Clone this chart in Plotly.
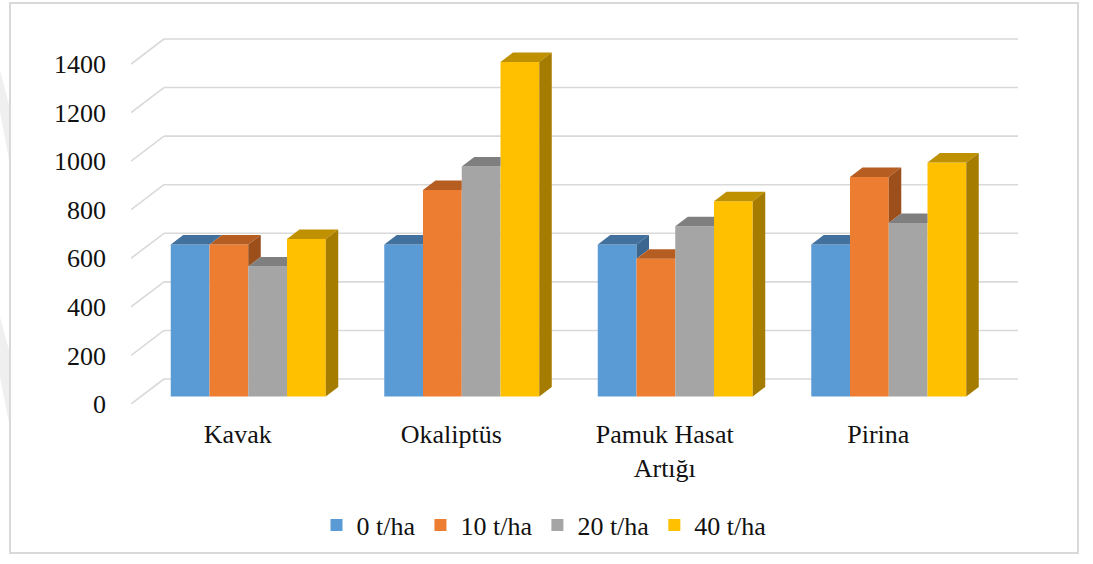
import plotly.graph_objects as go

# ---- data -------------------------------------------------------------
categories = ["Kavak", "Okaliptüs", "Pamuk Hasat<br>Artığı", "Pirina"]
series_names = ["0 t/ha", "10 t/ha", "20 t/ha", "40 t/ha"]
dose_0 = [625, 625, 625, 625]
dose_10 = [625, 850, 567, 903]
dose_20 = [535, 947, 701, 714]
dose_40 = [648, 1377, 804, 963]
y_ticks = [0, 200, 400, 600, 800, 1000, 1200, 1400]

series_values = [dose_0, dose_10, dose_20, dose_40]

# ---- style --------------------------------------------------------------
front_colors = ["#5B9BD5", "#ED7D31", "#A5A5A5", "#FFC000"]
top_colors = ["#41719C", "#B65D22", "#7F7F7F", "#BF9000"]
side_colors = ["#3A6690", "#9C4E1B", "#6E6E6E", "#A67C00"]
grid_color = "#D9D9D9"
font_family = "Liberation Serif"
text_color = "#111111"
base_font = dict(family=font_family, size=26, color=text_color)

W, H = 1093, 564
M_L, M_R, M_T, M_B = 131, 53, 20, 160
plot_w = W - M_L - M_R
plot_h = H - M_T - M_B

slot_px = 213.5            # pixels per category slot
unit_px = 340.0 / 1400.0   # pixels per value unit
x_max = plot_w / slot_px
y_max = plot_h / unit_px


def px_x(p):
    return p / slot_px


def px_y(p):
    return p / unit_px


def paper_x(p):
    return (p - M_L) / plot_w


def paper_y(p):
    return (M_T + plot_h - p) / plot_h


# oblique projection offsets (data units)
floor_dx, floor_dy = px_x(33), px_y(25)      # full floor depth
bar_dx, bar_dy = px_x(10.5), px_y(7.6)       # bar front face inset
depth_dx, depth_dy = px_x(12.5), px_y(9.5)   # bar depth
bar_w = px_x(38.75)
n_cat = len(categories)
n_ser = len(series_values)

fig = go.Figure()

# front faces of the bars
for s, (name, vals) in enumerate(zip(series_names, series_values)):
    centers = [c + 0.5 + bar_dx + (s - (n_ser - 1) / 2) * bar_w for c in range(n_cat)]
    fig.add_trace(go.Bar(
        x=centers, y=vals, base=[bar_dy] * n_cat, width=bar_w,
        name=name, marker=dict(color=front_colors[s], line=dict(width=0)),
        hoverinfo="skip",
    ))

# top and side faces, clipped where the next bar in the group hides them
for s, vals in enumerate(series_values):
    top_x, top_y, side_x, side_y = [], [], [], []
    for c in range(n_cat):
        h = vals[c]
        nxt = series_values[s + 1][c] if s < n_ser - 1 else 0
        xl = c + 0.5 + bar_dx + (s - n_ser / 2) * bar_w
        xr = xl + bar_w
        b = bar_dy
        T = b + h
        if nxt <= h:
            pts = [(xl, T), (xr, T), (xr + depth_dx, T + depth_dy), (xl + depth_dx, T + depth_dy)]
        else:
            ycut = min(b + nxt, T + depth_dy)
            pts = [(xl, T), (xr, T), (xr, ycut),
                   (xr + depth_dx * (ycut - T) / depth_dy, ycut),
                   (xr + depth_dx, T + depth_dy), (xl + depth_dx, T + depth_dy)]
        for px, py in pts + [pts[0]]:
            top_x.append(px)
            top_y.append(py)
        top_x.append(None)
        top_y.append(None)
        if nxt < h:
            lo = b + nxt
            pts = [(xr, lo), (xr, T), (xr + depth_dx, T + depth_dy), (xr + depth_dx, lo + depth_dy)]
            for px, py in pts + [pts[0]]:
                side_x.append(px)
                side_y.append(py)
            side_x.append(None)
            side_y.append(None)
    fig.add_trace(go.Scatter(x=top_x, y=top_y, mode="lines", fill="toself",
                             fillcolor=top_colors[s], line=dict(width=0),
                             showlegend=False, hoverinfo="skip"))
    if side_x:
        fig.add_trace(go.Scatter(x=side_x, y=side_y, mode="lines", fill="toself",
                                 fillcolor=side_colors[s], line=dict(width=0),
                                 showlegend=False, hoverinfo="skip"))

# back wall gridlines with their diagonal floor edges
shapes = []
for v in y_ticks:
    shapes.append(dict(type="line", xref="x", yref="y", layer="below",
                       x0=0, y0=v, x1=floor_dx, y1=v + floor_dy,
                       line=dict(color=grid_color, width=1.6)))
    shapes.append(dict(type="line", xref="x", yref="y", layer="below",
                       x0=floor_dx, y0=v + floor_dy, x1=n_cat + floor_dx, y1=v + floor_dy,
                       line=dict(color=grid_color, width=1.6)))

# chart border
shapes.append(dict(type="rect", xref="paper", yref="paper", layer="below",
                   x0=paper_x(10), x1=paper_x(1078), y0=paper_y(553), y1=paper_y(3),
                   line=dict(color="#D9D9D9", width=2), fillcolor="rgba(0,0,0,0)"))

# faint page marks left of the border
for poly in ([(0, 70), (9, 105), (9, 160), (0, 112)],
             [(0, 317), (9, 350), (9, 423), (0, 377)]):
    path = "M " + " L ".join(f"{paper_x(px):.5f},{paper_y(py):.5f}" for px, py in poly) + " Z"
    shapes.append(dict(type="path", xref="paper", yref="paper", layer="below",
                       path=path, fillcolor="#EFEFEF", line=dict(width=0)))

fig.update_layout(
    width=W, height=H,
    margin=dict(l=M_L, r=M_R, t=M_T, b=M_B),
    paper_bgcolor="white", plot_bgcolor="white",
    barmode="overlay",
    font=base_font,
    shapes=shapes,
    showlegend=True,
    legend=dict(orientation="h", x=paper_x(544), xanchor="center",
                y=paper_y(525), yanchor="middle",
                font=base_font, itemwidth=30, bgcolor="rgba(0,0,0,0)"),
    xaxis=dict(range=[0, x_max], tickmode="array",
               tickvals=[c + 0.5 for c in range(n_cat)], ticktext=categories,
               tickfont=base_font,
               showgrid=False, zeroline=False, showline=False, ticks="",
               ticklabelstandoff=12, fixedrange=True),
    yaxis=dict(range=[0, y_max], tickmode="array", tickvals=y_ticks,
               ticktext=[str(v) for v in y_ticks], tickfont=base_font,
               showgrid=False, zeroline=False, showline=False, ticks="",
               ticklabelstandoff=24, fixedrange=True),
)

fig.write_html("out.html")
